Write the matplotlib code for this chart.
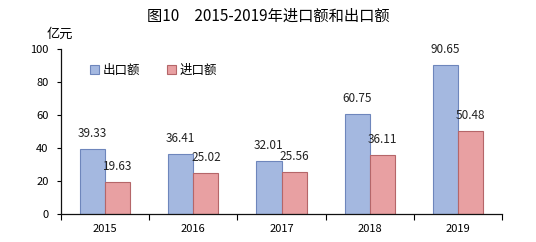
import numpy as np
import matplotlib.pyplot as plt

plt.rcParams['font.family'] = ['Noto Sans CJK SC', 'DejaVu Sans']

# data
years = ['2015', '2016', '2017', '2018', '2019']
export_vals = [39.33, 36.41, 32.01, 60.75, 90.65]
import_vals = [19.63, 25.02, 25.56, 36.11, 50.48]

fig = plt.figure(figsize=(5.36, 2.42), dpi=100)
ax = fig.add_axes([0.1138, 0.1157, 0.8228, 0.6798])

x = np.arange(len(years))
w = 0.285

b1 = ax.bar(x - w / 2, export_vals, w, color='#A4B8E0', edgecolor='#6E86BC',
            linewidth=0.8, label='出口额')
b2 = ax.bar(x + w / 2, import_vals, w, color='#E8A0A2', edgecolor='#B56669',
            linewidth=0.8, label='进口额')

# value labels above bars
for rects, vals in [(b1, export_vals), (b2, import_vals)]:
    for r, v in zip(rects, vals):
        ax.annotate('%.2f' % v, (r.get_x() + r.get_width() / 2, v),
                    xytext=(0, 6.5), textcoords='offset points',
                    ha='center', va='bottom', fontsize=8.5, color='#222222')

ax.set_xlim(-0.5, len(years) - 0.5)
ax.set_ylim(0, 100)
ax.set_yticks([0, 20, 40, 60, 80, 100])
ax.tick_params(axis='y', labelsize=8, length=3, width=0.8, pad=6)

# category labels centered, tick marks between groups
ax.set_xticks(np.arange(-0.5, len(years) + 0.5, 1))
ax.set_xticklabels([])
ax.set_xticks(x, minor=True)
ax.set_xticklabels(years, minor=True, fontsize=8)
ax.tick_params(axis='x', which='major', length=4, width=0.8, direction='out')
ax.tick_params(axis='x', which='minor', length=0, pad=7)

for s in ['top', 'right']:
    ax.spines[s].set_visible(False)
for s in ['left', 'bottom']:
    ax.spines[s].set_linewidth(0.9)
    ax.spines[s].set_color('#111111')

ax.legend(loc='upper left', bbox_to_anchor=(0.04, 0.98), ncol=2, frameon=False,
          fontsize=9, handlelength=0.7, handleheight=0.7, handletextpad=0.3,
          columnspacing=2.2)

fig.text(0.5, 0.935, '图10　2015-2019年进口额和出口额', ha='center', va='center',
         fontsize=11)
fig.text(0.112, 0.86, '亿元', ha='center', va='center', fontsize=9.5)

plt.savefig('out.png', dpi=100)
